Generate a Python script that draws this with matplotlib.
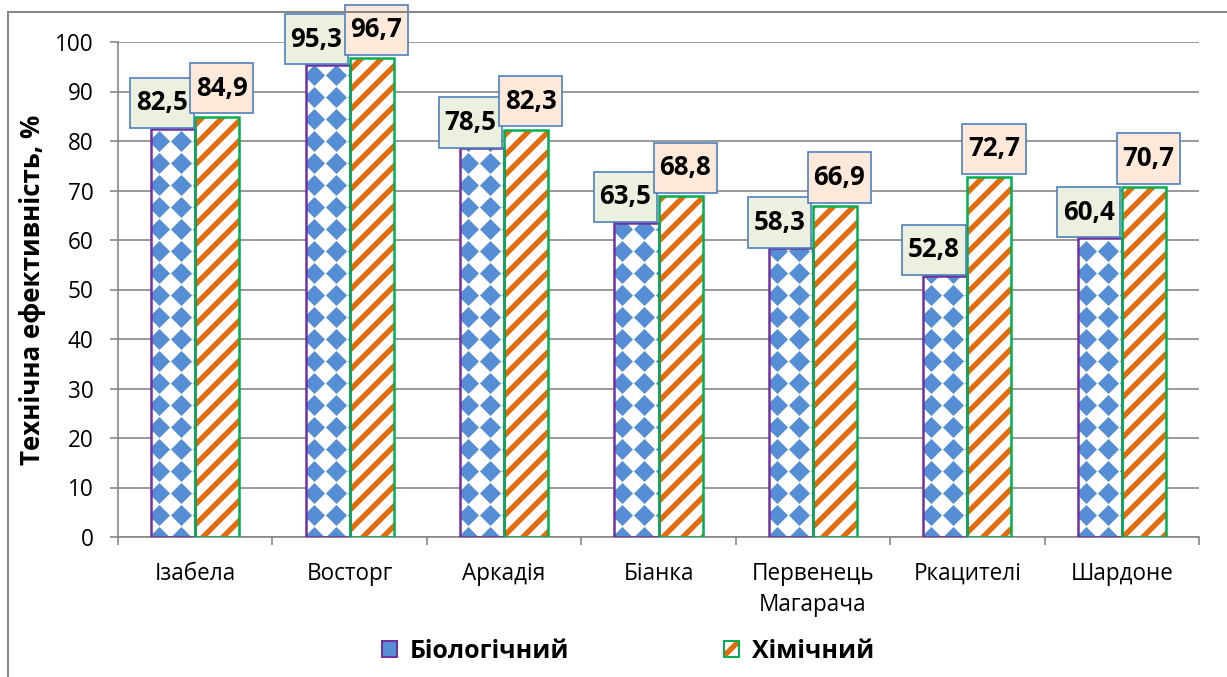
import numpy as np
import matplotlib
matplotlib.use("Agg")
import matplotlib.pyplot as plt
from matplotlib.patches import Patch
from matplotlib.lines import Line2D
from matplotlib.path import Path
from matplotlib.legend_handler import HandlerTuple

# data
categories = ['Ізабела', 'Восторг', 'Аркадія', 'Біанка',
              'Первенець\nМагарача', 'Ркацителі', 'Шардоне']
bio = [82.5, 95.3, 78.5, 63.5, 58.3, 52.8, 60.4]
chem = [84.9, 96.7, 82.3, 68.8, 66.9, 72.7, 70.7]
yticks = list(range(0, 101, 10))
series_names = ['Біологічний', 'Хімічний']

# colours
blue = '#558ed5'
orange = '#e46c0a'
purple = '#7030a0'
green = '#00b050'
grey = '#878787'
box_edge = '#4f81bd'
box_bio = '#ebf1de'
box_chem = '#fde9d9'

DPI = 120
W, H = 1227, 677
PX = 72 / DPI  # points per pixel

plt.rcParams['font.family'] = ['Open Sans', 'DejaVu Sans']
plt.rcParams['hatch.linewidth'] = 3.2

PAD_X, PAD_Y = 0.22, 0.45


def label_box(x0, y0, width, height, mutation_size):
    # rectangle with more padding vertically than horizontally
    px_ = PAD_X * mutation_size
    py_ = PAD_Y * mutation_size
    x0, y0 = x0 - px_, y0 - py_
    x1, y1 = x0 + width + 2 * px_, y0 + height + 2 * py_
    return Path([(x0, y0), (x1, y0), (x1, y1), (x0, y1), (x0, y0)], closed=True)


fig = plt.figure(figsize=(W / DPI, H / DPI), dpi=DPI)
ax_l, ax_r, ax_t, ax_b = 118, 1199, 42, 537
ax = fig.add_axes([ax_l / W, 1 - ax_b / H, (ax_r - ax_l) / W, (ax_b - ax_t) / H])

x = np.arange(len(categories))
w = 0.285
ax.set_xlim(-0.5, len(categories) - 0.5)
ax.set_ylim(0, 100)
ax.set_autoscale_on(False)

# px -> data units
dx_px = (len(categories)) / (ax_r - ax_l)
dy_px = 100 / (ax_b - ax_t)

# біологічний: white bar with blue diamond pattern, purple edge
step = 22
for xi, v in zip(x, bio):
    left = xi - w
    base = ax.bar(left, v, w, align='edge', color='white', linewidth=0, zorder=2)[0]
    gx = left + (8 + step * np.arange(-1, 4)) * dx_px
    gy = step * np.arange(0, int(v / dy_px / step) + 2) * dy_px
    GX, GY = np.meshgrid(gx, gy)
    sc = ax.scatter(GX.ravel(), GY.ravel(), marker='D', s=80,
                    color=blue, linewidths=0, zorder=2.5)
    sc.set_clip_path(base)
    ax.bar(left, v, w, align='edge', facecolor='none', edgecolor=purple,
           linewidth=1.5, zorder=3)

# хімічний: orange diagonal stripes, green edge
ax.bar(x, chem, w, align='edge', facecolor='white', edgecolor=orange,
       hatch='//', linewidth=0, zorder=2)
ax.bar(x, chem, w, align='edge', facecolor='none', edgecolor=green,
       linewidth=1.5, zorder=3)

# value labels
fs_lab = 15.5
pad_x = PAD_X * fs_lab
pad_y = PAD_Y * fs_lab
for xi, v in zip(x, bio):
    ax.annotate(f'{v:.1f}'.replace('.', ','), xy=(xi, v),
                xytext=(-pad_x - 1, pad_y + 0.5), textcoords='offset points',
                ha='right', va='bottom', fontsize=fs_lab, fontweight='bold',
                bbox=dict(boxstyle=label_box, fc=box_bio, ec=box_edge, lw=1.0),
                zorder=5)
for xi, v in zip(x, chem):
    ax.annotate(f'{v:.1f}'.replace('.', ','), xy=(xi, v),
                xytext=(pad_x - 3, pad_y + 2), textcoords='offset points',
                ha='left', va='bottom', fontsize=fs_lab, fontweight='bold',
                bbox=dict(boxstyle=label_box, fc=box_chem, ec=box_edge, lw=1.0),
                zorder=6)

# axes styling
ax.set_yticks(yticks)
ax.yaxis.grid(True, color=grey, linewidth=1.0)
ax.set_axisbelow(True)
for s in ['top', 'right']:
    ax.spines[s].set_visible(False)
for s in ['left', 'bottom']:
    ax.spines[s].set_color(grey)
    ax.spines[s].set_linewidth(1.0)
ax.tick_params(axis='y', length=8 * PX, width=1.0, color=grey, pad=10,
               labelsize=13.5)
ax.set_xticks(x)
ax.set_xticklabels(categories, fontsize=13.5, linespacing=1.4)
ax.set_xticks(np.arange(-0.5, len(categories)), minor=True)
ax.tick_params(axis='x', which='major', length=0, pad=15)
ax.tick_params(axis='x', which='minor', length=8 * PX, width=1.0, color=grey)
ax.set_ylabel('Технічна ефективність, %', fontsize=15.5, fontweight='bold')
ax.yaxis.set_label_coords(-72 / (ax_r - ax_l), 0.5)

# legend
h_bio = Patch(facecolor=blue, edgecolor=purple, linewidth=1.2)
h_chem = (Patch(facecolor='white', edgecolor=orange, hatch='//', linewidth=0),
          Patch(facecolor='none', edgecolor=green, linewidth=1.2))
fig.legend([h_bio, h_chem], series_names,
           handler_map={tuple: HandlerTuple(ndivide=1)},
           loc='center', bbox_to_anchor=(628 / W, 1 - 651 / H), ncol=2,
           frameon=False, prop=dict(size=15, weight='bold'),
           handlelength=0.6, handleheight=0.6, handletextpad=0.5,
           columnspacing=6.2)

# outer frame
fig.add_artist(Line2D([8 / W, 8 / W], [0, 1 - 12 / H], color=grey, lw=1.2,
                      transform=fig.transFigure))
fig.add_artist(Line2D([8 / W, 1], [1 - 12 / H, 1 - 12 / H], color=grey, lw=1.2,
                      transform=fig.transFigure))

fig.savefig('out.png', dpi=DPI)
